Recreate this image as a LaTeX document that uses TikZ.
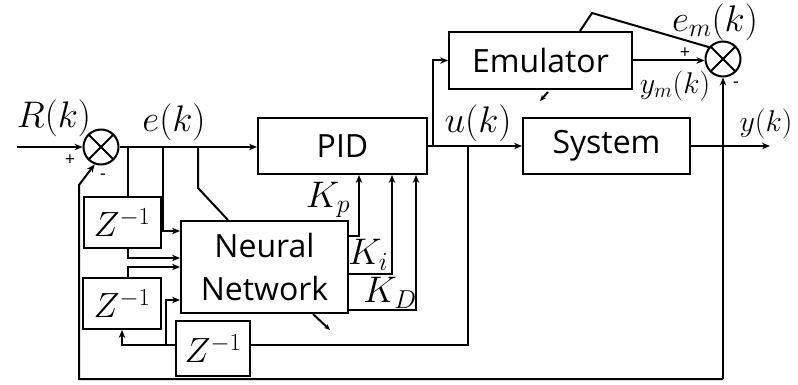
\RequirePackage{fix-cm}
\documentclass[tikz,border=0pt]{standalone}
\usepackage{fontspec}
\setmainfont{Open Sans}
\usetikzlibrary{arrows.meta}
\begin{document}
\begin{tikzpicture}[x=1pt,y=-1pt, line width=2pt,
  >={Stealth[length=8pt,width=6.5pt]},
  blk/.style={draw, rectangle, inner sep=0pt, font=\fontsize{32}{43}\selectfont},
  zblk/.style={blk, font=\fontsize{35}{40}\selectfont},
  sumnode/.style={draw, circle, minimum size=35pt, inner sep=0pt,
    path picture={\draw[line width=2pt]
      (path picture bounding box.north west) -- (path picture bounding box.south east)
      (path picture bounding box.north east) -- (path picture bounding box.south west);}},
  lbl/.style={font=\fontsize{37}{40}\selectfont, inner sep=0pt},
  slbl/.style={font=\fontsize{30}{32}\selectfont, inner sep=0pt},
  sgn/.style={font=\fontsize{18}{20}\selectfont, inner sep=0pt},
  tiny/.style={->, >={Stealth[length=6pt,width=5pt]}}]
\fill[white] (0,0) rectangle (798,385);
\useasboundingbox (0,0) rectangle (798,385);

% blocks
\node[blk, minimum width=169pt, minimum height=56pt] (pid) at (342.5,146) {PID};
\node[blk, minimum width=183pt, minimum height=57pt] (emu) at (540.5,60.5) {Emulator};
\node[blk, minimum width=167pt, minimum height=56pt] (sys) at (606.5,146) {System};
\node[blk, minimum width=167pt, minimum height=92pt, align=center] (nn) at (264.5,267) {Neural\\Network};
\node[zblk, minimum width=77pt, minimum height=51pt] (z1) at (122,222.5) {$Z^{-1}$};
\node[zblk, minimum width=78pt, minimum height=51pt] (z2) at (122,303.5) {$Z^{-1}$};
\node[zblk, minimum width=74pt, minimum height=55pt] (z3) at (213,348.5) {$Z^{-1}$};

% summing junctions
\node[sumnode] (sum1) at (101,147) {};
\node[sumnode] (sum2) at (723,59) {};

% labels
\node[lbl] (lR) at (54,118) {$R(k)$};
\node[lbl] (le) at (174,122) {$e(k)$};
\node[lbl] (lu) at (478,123) {$u(k)$};
\node[lbl] (lkp) at (328,200) {$K_p$};
\node[lbl] (lki) at (368,255) {$K_i$};
\node[lbl] (lkd) at (390,293) {$K_D$};
\node[lbl] (lem) at (715,22) {$e_m(k)$};
\node[slbl] (lym) at (675,86) {$y_m(k)$};
\node[slbl] (ly) at (766,124) {$y(k)$};
\node[sgn] (p1) at (70,160) {+};
\node[sgn] (m1) at (103,177) {-};
\node[sgn] (p2) at (685,53) {+};
\node[sgn] (m2) at (736,85) {-};

% reference input and error path
\coordinate (rin) at (17,147);
\draw[->] (rin) -- (sum1.west);
\draw[->] (sum1.east) -- (sum1.east -| pid.west);
\coordinate (b1) at (128,147);
\coordinate (b2) at (163,147);
\coordinate (b3) at (198,147);
\draw (b1) -- (b1 |- z1.north);
\draw[->] (b2) -- (163,231) -- (nn.west |- 0,231);
\draw (b3) -- (198,188) -- (nn.north -| 228,0);

% delay chain into the network
\draw[->] (z1.south -| 128,0) -- (128,258) -- (nn.west |- 0,258);
\draw[->] (z2.north -| 128,0) -- (128,267) -- (nn.west |- 0,267);
\draw[->] (z3.west |- 0,345) -- (122,345) -- (z2.south);
\draw[->] (166,345) -- (166,300) -- (nn.west |- 0,300);

% gains to the PID
\draw[->] (nn.east |- 0,236) -| (pid.south -| 359,0);
\draw[->] (nn.east |- 0,274) -| (pid.south -| 392,0);
\draw[->] (nn.east |- 0,310) -| (pid.south -| 416,0);
\draw[tiny] (nn.south -| 313,0) -- (330,330);

% control signal
\coordinate (ub) at (433,146);
\coordinate (uf) at (468,146);
\draw[->] (pid.east) -- (sys.west);
\draw[->] (ub) -- (433,60.5) -- (emu.west);
\draw (uf) -- (468,345) -- (z3.east |- 0,345);

% plant output and emulator error
\coordinate (yend) at (770,146);
\draw[->] (sys.east) -- (yend);
\draw[->] (emu.east) -- (emu.east -| sum2.west);
\draw (sum2.140) -- (592,13) -- (emu.north -| 580,0);
\draw[tiny] (548,92) -- (540,101);

% outer feedback loop
\coordinate (fb) at (sum2.south |- 0,379);
\draw[->] (fb) -- (sum2.south);
\draw[->] (fb) -- (79,379) -- (79,185) -- (sum1.250);
\end{tikzpicture}
\end{document}
